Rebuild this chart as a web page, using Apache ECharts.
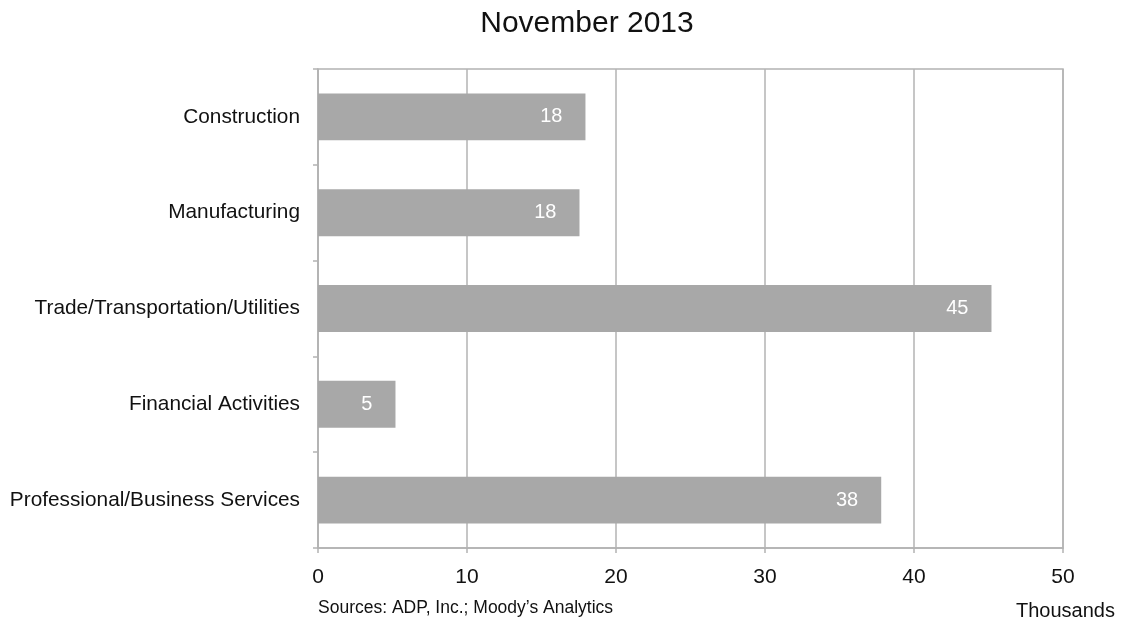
<!DOCTYPE html>
<html>
<head>
<meta charset="utf-8">
<script src="https://cdn.jsdelivr.net/npm/echarts@6/dist/echarts.min.js"></script>
<style>html,body{margin:0;padding:0;background:#fff}#c{width:1124px;height:623px}</style>
</head>
<body>
<div id="c"></div>
<script>
const categories = ["Construction", "Manufacturing", "Trade/Transportation/Utilities", "Financial Activities", "Professional/Business Services"];
const values = [17.95, 17.55, 45.2, 5.2, 37.8];
const xTicks = [0, 10, 20, 30, 40, 50];

const chart = echarts.init(document.getElementById('c'));
const font = '"Liberation Sans", Arial, sans-serif';
chart.setOption({
  animation: false,
  graphic: [
    { type: 'text', x: 587, y: 24, style: { text: 'November 2013', align: 'center', verticalAlign: 'middle', fontFamily: font, fontSize: 30, fill: '#111' } },
    { type: 'text', x: 318, y: 608, style: { text: 'Sources: ADP, Inc.; Moody\u2019s Analytics', verticalAlign: 'middle', fontFamily: font, fontSize: 17.5, fill: '#111' } },
    { type: 'text', x: 1016, y: 611, style: { text: 'Thousands', verticalAlign: 'middle', fontFamily: font, fontSize: 20, fill: '#111' } }
  ],
  grid: { left: 318, right: 61, top: 69, bottom: 75, show: true, borderColor: '#b3b3b3', borderWidth: 1.5, containLabel: false },
  xAxis: {
    type: 'value', min: xTicks[0], max: xTicks[xTicks.length - 1], interval: 10,
    axisLine: { show: true, lineStyle: { color: '#b3b3b3', width: 1.5 } },
    axisTick: { show: true, length: 5, lineStyle: { color: '#b3b3b3', width: 1.5 } },
    splitLine: { show: true, lineStyle: { color: '#b3b3b3', width: 1.5 } },
    axisLabel: { margin: 19, fontFamily: font, fontSize: 21, color: '#111' }
  },
  yAxis: {
    type: 'category', data: categories, inverse: true,
    axisLine: { show: true, lineStyle: { color: '#b3b3b3', width: 1.5 } },
    axisTick: { show: true, length: 5, lineStyle: { color: '#b3b3b3', width: 1.5 } },
    axisLabel: { margin: 18, fontFamily: font, fontSize: 20.8, color: '#111' }
  },
  series: [{
    type: 'bar', data: values, barCategoryGap: '51%',
    itemStyle: { color: '#a8a8a8' },
    label: {
      show: true, position: 'insideRight', distance: 23,
      formatter: p => Math.round(p.value),
      fontFamily: font, fontSize: 20, color: '#fff'
    }
  }]
});
</script>
</body>
</html>
